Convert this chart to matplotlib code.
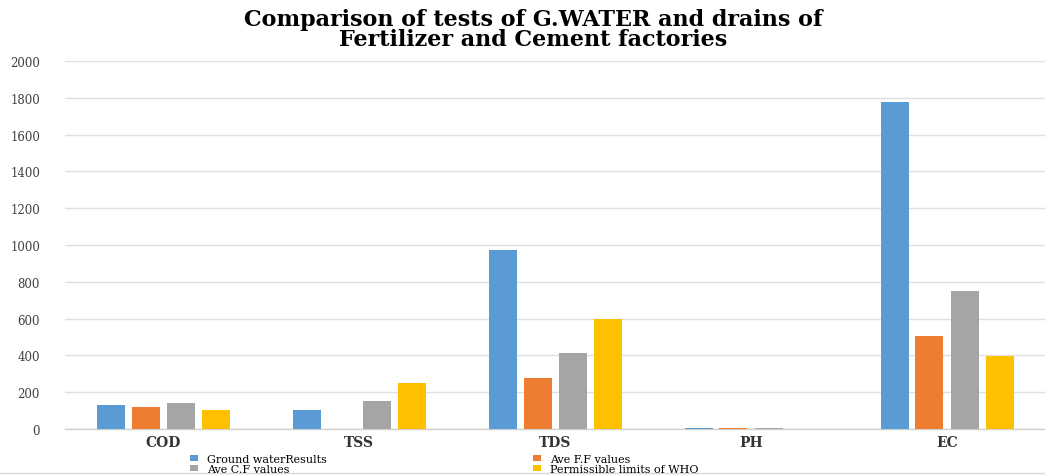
import matplotlib
matplotlib.use("Agg")
import matplotlib.pyplot as plt
import numpy as np
from matplotlib.lines import Line2D

categories = ["COD", "TSS", "TDS", "PH", "EC"]
series_names = ["Ground waterResults", "Ave F.F values", "Ave C.F values", "Permissible limits of WHO"]
ground_water = [128, 103, 973, 8, 1775]
ave_ff = [122, 0, 278, 8, 505]
ave_cf = [139, 153, 411, 7, 750]
who_limits = [102, 252, 600, 0, 398]
colors = ["#5B9BD5", "#ED7D31", "#A5A5A5", "#FFC000"]
yticks = [0, 200, 400, 600, 800, 1000, 1200, 1400, 1600, 1800, 2000]

W, H = 1045, 477
fig = plt.figure(figsize=(W / 100, H / 100), dpi=100)
ax = fig.add_axes([65 / W, 1 - 430 / H, 1 - 65 / W, (430 - 62) / H])

serif = ["DejaVu Serif"]
data = [ground_water, ave_ff, ave_cf, who_limits]
x = np.arange(len(categories))
bw = 28 / 196
step = 35 / 196
handles = []
for i, (vals, c, name) in enumerate(zip(data, colors, series_names)):
    b = ax.bar(x + (i - 1.5) * step, vals, width=bw, color=c, label=name, zorder=3)
    handles.append(b)

ax.set_xlim(-0.5, len(categories) - 0.5)
ax.set_ylim(0, 2000)
ax.set_yticks(yticks)
ax.set_yticklabels([str(t) for t in yticks], fontfamily=serif, fontsize=8.5, color="#404040")
ax.set_xticks(x)
ax.set_xticklabels(categories, fontfamily=serif, fontsize=10, fontweight="bold", color="#333333")
ax.tick_params(axis="both", length=0)
ax.tick_params(axis="y", pad=18)
ax.tick_params(axis="x", pad=4)
ax.grid(axis="y", color="#e0e0e0", linewidth=1, zorder=0)
for s in ["top", "right", "left"]:
    ax.spines[s].set_visible(False)
ax.spines["bottom"].set_color("#d0d0d0")
ax.spines["bottom"].set_linewidth(1)

fig.text(0.51, 1 - 30 / H, "Comparison of tests of G.WATER and drains of\nFertilizer and Cement factories",
         ha="center", va="center", fontsize=16, fontweight="bold", fontfamily=serif,
         linespacing=0.9)

leg_kw = dict(frameon=False, prop={"family": serif, "size": 8}, handlelength=0.7,
              handleheight=0.5, labelspacing=0.0, handletextpad=0.8, borderpad=0,
              borderaxespad=0)
leg1 = fig.legend([handles[0], handles[2]], [series_names[0], series_names[2]],
                  loc="center left", bbox_to_anchor=(190 / W, 1 - 465 / H), **leg_kw)
leg2 = fig.legend([handles[1], handles[3]], [series_names[1], series_names[3]],
                  loc="center left", bbox_to_anchor=(533 / W, 1 - 465 / H), **leg_kw)

fig.add_artist(Line2D([0, 1], [1 - 474 / H, 1 - 474 / H], color="#d9d9d9", linewidth=1,
                      transform=fig.transFigure))

fig.savefig("out.png", dpi=100)
